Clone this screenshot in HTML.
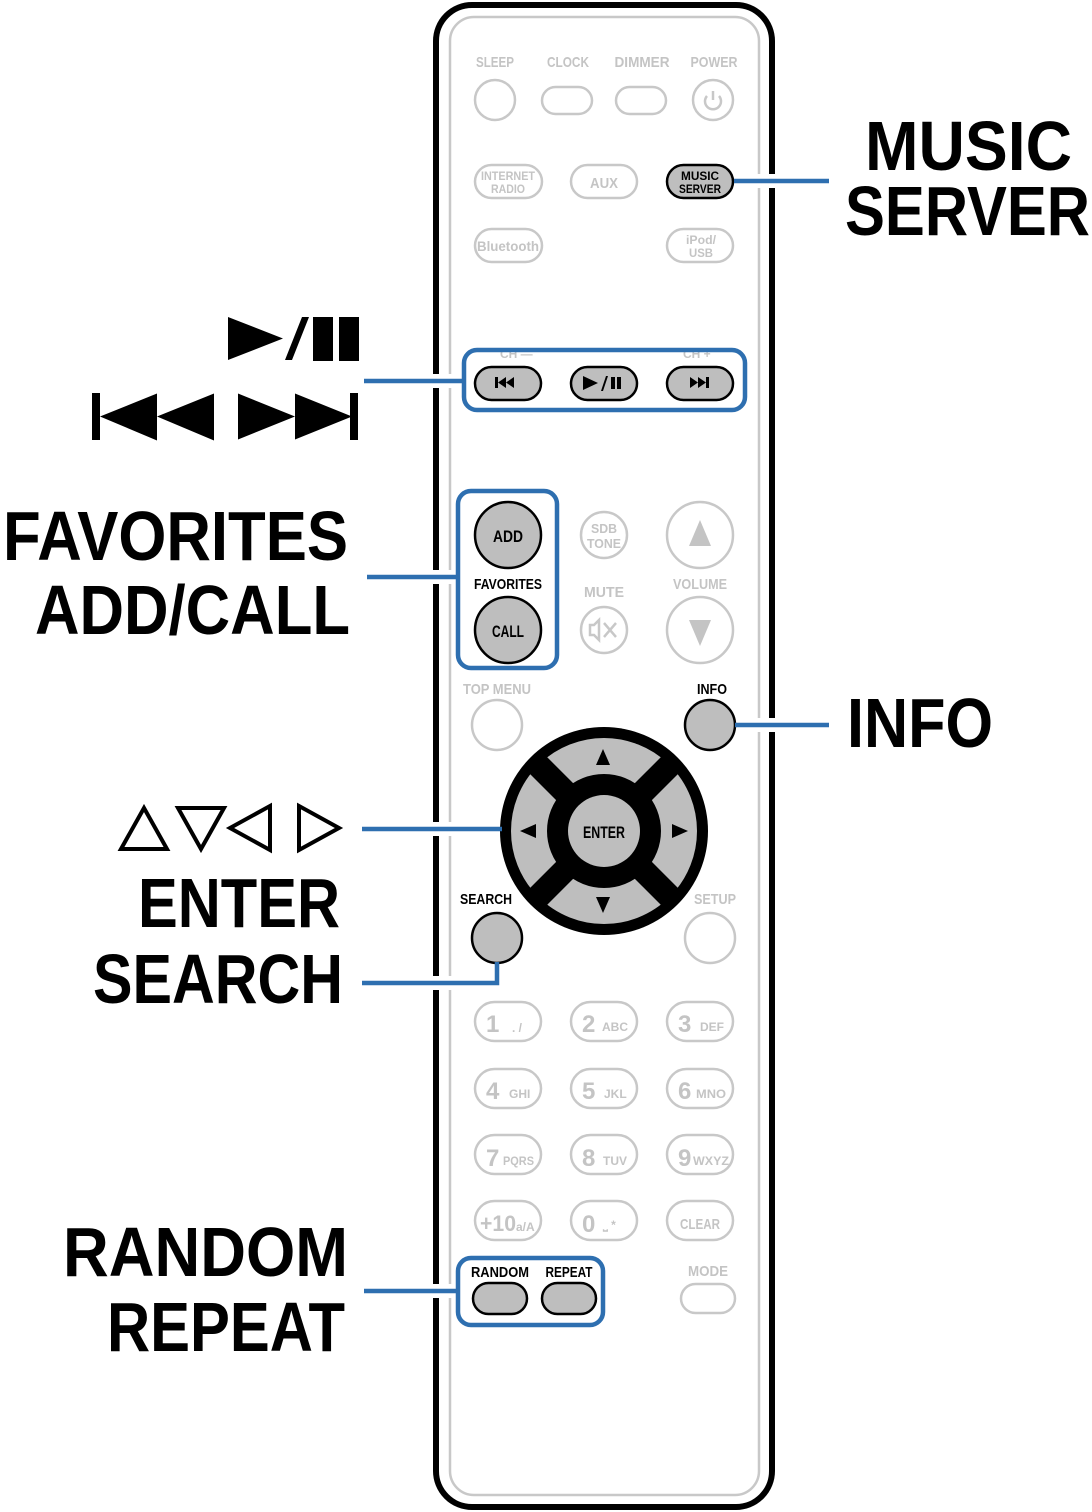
<!DOCTYPE html>
<html><head><meta charset="utf-8"><style>
html,body{margin:0;padding:0;background:#fff}
svg{display:block}
text{font-family:"Liberation Sans",sans-serif;font-weight:bold}
.g{fill:#c4c4c4}
.gs{fill:none;stroke:#c8c8c8;stroke-width:2.5}
.k{fill:#000}
.bb{fill:#bebebe;stroke:#000;stroke-width:2.5}
.bl{fill:none;stroke:#2e6fb0;stroke-width:4.5}
.wh{fill:none;stroke:#fff;stroke-width:14}
</style></head><body>
<svg width="1092" height="1512" viewBox="0 0 1092 1512" xmlns="http://www.w3.org/2000/svg">
<rect x="436" y="5" width="336" height="1502" rx="36" fill="#fff" stroke="#000" stroke-width="6"/>
<rect x="450" y="17" width="309" height="1478" rx="24" class="gs"/>

<line x1="420" y1="381" x2="463" y2="381" class="wh"/>
<line x1="420" y1="577" x2="457" y2="577" class="wh"/>
<line x1="420" y1="829" x2="500" y2="829" class="wh"/>
<line x1="420" y1="983" x2="497" y2="983" class="wh"/>
<line x1="420" y1="1291" x2="457" y2="1291" class="wh"/>
<line x1="745" y1="181" x2="790" y2="181" class="wh"/>
<line x1="745" y1="725" x2="790" y2="725" class="wh"/>

<g font-size="15" class="g">
<text x="495" y="67" text-anchor="middle" textLength="38" lengthAdjust="spacingAndGlyphs">SLEEP</text>
<text x="568" y="67" text-anchor="middle" textLength="42" lengthAdjust="spacingAndGlyphs">CLOCK</text>
<text x="642" y="67" text-anchor="middle" textLength="55" lengthAdjust="spacingAndGlyphs">DIMMER</text>
<text x="714" y="67" text-anchor="middle" textLength="47" lengthAdjust="spacingAndGlyphs">POWER</text>
</g>
<circle cx="495" cy="100" r="20" class="gs"/>
<rect x="542" y="87" width="50" height="27" rx="13.5" class="gs"/>
<rect x="616" y="87" width="50" height="27" rx="13.5" class="gs"/>
<circle cx="713" cy="100" r="20" class="gs"/>
<path d="M707 96 A8 8 0 1 0 719 96" class="gs" stroke-width="2"/><line x1="713" y1="91" x2="713" y2="100" class="gs" stroke-width="2"/>

<rect x="475" y="165" width="67" height="33" rx="16.5" class="gs"/>
<text x="508" y="180" font-size="12" text-anchor="middle" class="g" textLength="54" lengthAdjust="spacingAndGlyphs">INTERNET</text>
<text x="508" y="193" font-size="12" text-anchor="middle" class="g" textLength="34" lengthAdjust="spacingAndGlyphs">RADIO</text>
<rect x="571" y="165" width="66" height="33" rx="16.5" class="gs"/>
<text x="604" y="188" font-size="15" text-anchor="middle" class="g" textLength="28" lengthAdjust="spacingAndGlyphs">AUX</text>
<rect x="667" y="165" width="66" height="33" rx="16.5" class="bb"/>
<text x="700" y="180" font-size="12" text-anchor="middle" textLength="38" lengthAdjust="spacingAndGlyphs">MUSIC</text>
<text x="700" y="193" font-size="12" text-anchor="middle" textLength="42" lengthAdjust="spacingAndGlyphs">SERVER</text>
<rect x="475" y="229" width="67" height="33" rx="16.5" class="gs"/>
<text x="508" y="251" font-size="14" text-anchor="middle" class="g" textLength="62" lengthAdjust="spacingAndGlyphs">Bluetooth</text>
<rect x="667" y="229" width="66" height="33" rx="16.5" class="gs"/>
<text x="701" y="244" font-size="12" text-anchor="middle" class="g" textLength="30" lengthAdjust="spacingAndGlyphs">iPod/</text>
<text x="701" y="257" font-size="12" text-anchor="middle" class="g" textLength="24" lengthAdjust="spacingAndGlyphs">USB</text>

<text x="500" y="358" font-size="12" class="g">CH —</text>
<text x="683" y="358" font-size="12" class="g">CH +</text>
<rect x="464" y="350" width="281" height="60" rx="13" class="bl"/>
<rect x="475" y="367" width="66" height="33" rx="16.5" class="bb"/>
<rect x="571" y="367" width="66" height="33" rx="16.5" class="bb"/>
<rect x="667" y="367" width="66" height="33" rx="16.5" class="bb"/>
<path d="M495 377h3v11h-3zM498 382.5l8-5.5v11zM506 382.5l8-5.5v11z" class="k"/>
<path d="M583 376l15 7-15 7zM601 391l5-15h2l-5 15zM611 377h4v12h-4zM617 377h4v12h-4z" class="k"/>
<path d="M690 377l8 5.5-8 5.5zM698 377l8 5.5-8 5.5zM706 377h3v11h-3z" class="k"/>

<rect x="458" y="491" width="99" height="177" rx="13" class="bl"/>
<circle cx="508" cy="535" r="33" class="bb"/>
<text x="508" y="542" font-size="17" text-anchor="middle" textLength="30" lengthAdjust="spacingAndGlyphs">ADD</text>
<text x="508" y="589" font-size="15" text-anchor="middle" textLength="68" lengthAdjust="spacingAndGlyphs">FAVORITES</text>
<circle cx="508" cy="630" r="33" class="bb"/>
<text x="508" y="637" font-size="17" text-anchor="middle" textLength="32" lengthAdjust="spacingAndGlyphs">CALL</text>
<circle cx="604" cy="535" r="23" class="gs"/>
<text x="604" y="533" font-size="13" text-anchor="middle" class="g" textLength="26" lengthAdjust="spacingAndGlyphs">SDB</text>
<text x="604" y="548" font-size="13" text-anchor="middle" class="g" textLength="34" lengthAdjust="spacingAndGlyphs">TONE</text>
<text x="604" y="597" font-size="15" text-anchor="middle" class="g" textLength="40" lengthAdjust="spacingAndGlyphs">MUTE</text>
<circle cx="604" cy="630" r="23" class="gs"/>
<path d="M590 625h4l5-5v20l-5-5h-4z" class="gs" stroke-width="2"/><path d="M604 623l12 14M616 623l-12 14" class="gs" stroke-width="2"/>
<circle cx="700" cy="535" r="33" class="gs"/>
<path d="M700 520l11 26h-22z" class="g"/>
<text x="700" y="589" font-size="15" text-anchor="middle" class="g" textLength="54" lengthAdjust="spacingAndGlyphs">VOLUME</text>
<circle cx="700" cy="630" r="33" class="gs"/>
<path d="M689 620h22l-11 26z" class="g"/>

<text x="497" y="694" font-size="15" text-anchor="middle" class="g" textLength="68" lengthAdjust="spacingAndGlyphs">TOP MENU</text>
<circle cx="497" cy="725" r="25" class="gs"/>
<text x="712" y="694" font-size="15" text-anchor="middle" textLength="30" lengthAdjust="spacingAndGlyphs">INFO</text>
<circle cx="710" cy="725" r="25" class="bb"/>

<circle cx="604" cy="831" r="104" class="k"/>
<circle cx="604" cy="831" r="75" fill="none" stroke="#bebebe" stroke-width="36"/>
<g stroke="#000" stroke-width="24">
<line x1="604" y1="831" x2="672" y2="763"/><line x1="604" y1="831" x2="536" y2="763"/>
<line x1="604" y1="831" x2="672" y2="899"/><line x1="604" y1="831" x2="536" y2="899"/>
</g>
<circle cx="604" cy="831" r="53" class="k"/>
<circle cx="604" cy="831" r="36" fill="#bebebe"/>
<text x="604" y="838" font-size="17" text-anchor="middle" textLength="42" lengthAdjust="spacingAndGlyphs">ENTER</text>
<path d="M603 749l7 16h-14zM603 913l7-16h-14zM520 831l16-7v14zM688 831l-16-7v14z" class="k"/>

<text x="486" y="904" font-size="15" text-anchor="middle" textLength="52" lengthAdjust="spacingAndGlyphs">SEARCH</text>
<circle cx="497" cy="938" r="25" class="bb"/>
<text x="715" y="904" font-size="15" text-anchor="middle" class="g" textLength="42" lengthAdjust="spacingAndGlyphs">SETUP</text>
<circle cx="710" cy="938" r="25" class="gs"/>

<g class="gs">
<rect x="475" y="1002" width="66" height="39" rx="19.5"/><rect x="571" y="1002" width="66" height="39" rx="19.5"/><rect x="667" y="1002" width="66" height="39" rx="19.5"/>
<rect x="475" y="1069" width="66" height="39" rx="19.5"/><rect x="571" y="1069" width="66" height="39" rx="19.5"/><rect x="667" y="1069" width="66" height="39" rx="19.5"/>
<rect x="475" y="1135" width="66" height="39" rx="19.5"/><rect x="571" y="1135" width="66" height="39" rx="19.5"/><rect x="667" y="1135" width="66" height="39" rx="19.5"/>
<rect x="475" y="1201" width="66" height="39" rx="19.5"/><rect x="571" y="1201" width="66" height="39" rx="19.5"/><rect x="667" y="1201" width="66" height="39" rx="19.5"/>
</g>
<g class="g">
<text x="486" y="1032" font-size="24">1</text><text x="512" y="1032" font-size="12">. /</text>
<text x="582" y="1032" font-size="24">2</text><text x="602" y="1031" font-size="12">ABC</text>
<text x="678" y="1032" font-size="24">3</text><text x="700" y="1031" font-size="12">DEF</text>
<text x="486" y="1099" font-size="24">4</text><text x="509" y="1098" font-size="12">GHI</text>
<text x="582" y="1099" font-size="24">5</text><text x="604" y="1098" font-size="12">JKL</text>
<text x="678" y="1099" font-size="24">6</text><text x="696" y="1098" font-size="12" textLength="30" lengthAdjust="spacingAndGlyphs">MNO</text>
<text x="486" y="1166" font-size="24">7</text><text x="503" y="1165" font-size="12" textLength="31" lengthAdjust="spacingAndGlyphs">PQRS</text>
<text x="582" y="1166" font-size="24">8</text><text x="603" y="1165" font-size="12">TUV</text>
<text x="678" y="1166" font-size="24">9</text><text x="693" y="1165" font-size="12" textLength="36" lengthAdjust="spacingAndGlyphs">WXYZ</text>
<text x="480" y="1231" font-size="22" textLength="36" lengthAdjust="spacingAndGlyphs">+10</text><text x="516" y="1231" font-size="12">a/A</text>
<text x="582" y="1232" font-size="24">0</text><text x="603" y="1229" font-size="12">⎵ *</text>
<text x="700" y="1229" font-size="15" text-anchor="middle" textLength="40" lengthAdjust="spacingAndGlyphs">CLEAR</text>
</g>

<rect x="458" y="1258" width="145" height="67" rx="13" class="bl"/>
<text x="500" y="1277" font-size="15" text-anchor="middle" textLength="58" lengthAdjust="spacingAndGlyphs">RANDOM</text>
<text x="569" y="1277" font-size="15" text-anchor="middle" textLength="47" lengthAdjust="spacingAndGlyphs">REPEAT</text>
<rect x="473" y="1283" width="54" height="31" rx="15.5" class="bb"/>
<rect x="542" y="1283" width="54" height="31" rx="15.5" class="bb"/>
<text x="708" y="1276" font-size="15" text-anchor="middle" class="g" textLength="40" lengthAdjust="spacingAndGlyphs">MODE</text>
<rect x="681" y="1284" width="54" height="29" rx="14.5" class="gs"/>

<g class="bl">
<line x1="734" y1="181" x2="829" y2="181"/>
<line x1="364" y1="381" x2="464" y2="381"/>
<line x1="367" y1="577" x2="458" y2="577"/>
<line x1="735" y1="725" x2="829" y2="725"/>
<line x1="362" y1="829" x2="502" y2="829"/>
<polyline points="497,962 497,983 362,983"/>
<line x1="364" y1="1291" x2="458" y2="1291"/>
</g>

<g font-size="70">
<text x="865" y="170" textLength="207" lengthAdjust="spacingAndGlyphs">MUSIC</text>
<text x="845" y="235" textLength="245" lengthAdjust="spacingAndGlyphs">SERVER</text>
<text x="847" y="747" textLength="146" lengthAdjust="spacingAndGlyphs">INFO</text>
<text x="3" y="560" textLength="345" lengthAdjust="spacingAndGlyphs">FAVORITES</text>
<text x="35" y="634" textLength="315" lengthAdjust="spacingAndGlyphs">ADD/CALL</text>
<text x="138" y="927" textLength="202" lengthAdjust="spacingAndGlyphs">ENTER</text>
<text x="93" y="1003" textLength="250" lengthAdjust="spacingAndGlyphs">SEARCH</text>
<text x="63" y="1276" textLength="285" lengthAdjust="spacingAndGlyphs">RANDOM</text>
<text x="107" y="1351" textLength="238" lengthAdjust="spacingAndGlyphs">REPEAT</text>
</g>
<path d="M228 317l55 21.5-55 21.5zM285 360l17-43h7l-17 43zM313 317h20v44h-20zM339 317h20v44h-20z" class="k"/>
<path d="M92 393h8v47h-8zM100 416.5l57-23v47zM157 416.5l57-23v47zM238 393.5l57 23-57 23zM295 393.5l57 23-57 23zM350 393h8v47h-8z" class="k"/>
<g fill="none" stroke="#000" stroke-width="4">
<path d="M144 808l23 41h-46z"/>
<path d="M178 808h46l-23 41z"/>
<path d="M270 806v44l-40-22z"/>
<path d="M299 806v44l40-22z"/>
</g>
</svg>
</body></html>
